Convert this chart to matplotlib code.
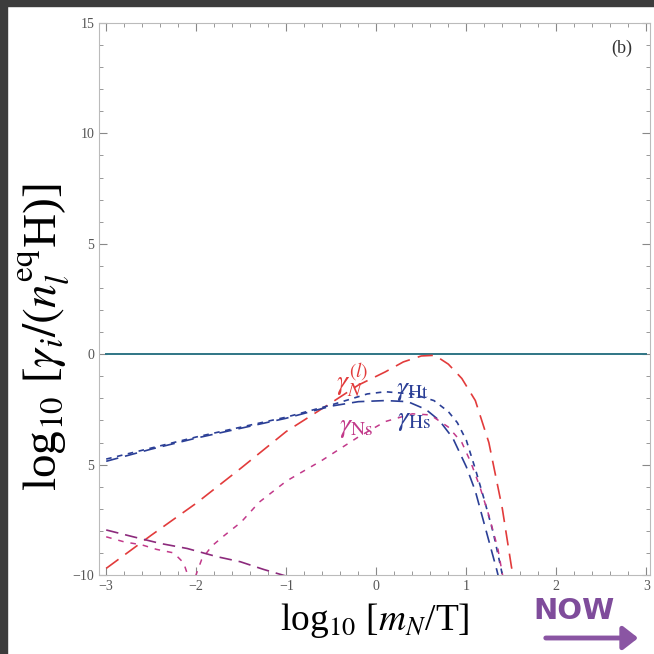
import matplotlib
matplotlib.use("Agg")
import matplotlib.pyplot as plt
from matplotlib.patches import FancyArrowPatch, Rectangle
from matplotlib.ticker import MultipleLocator

plt.rcParams['font.family'] = ['Liberation Serif', 'DejaVu Serif']
plt.rcParams['mathtext.fontset'] = 'stix'
plt.rcParams['lines.scale_dashes'] = False

# gamma_N^(l) (red, long dash)
x_N = [-3.0, -2.5, -2.0, -1.5, -1.0, -0.5, -0.2, 0.1, 0.3, 0.5, 0.65, 0.8, 0.95, 1.1, 1.25, 1.4, 1.5, 1.56]
y_N = [-9.7, -8.2, -6.75, -5.15, -3.5, -2.2, -1.4, -0.8, -0.35, -0.08, -0.05, -0.45, -1.1, -2.1, -4.0, -7.0, -9.6, -11.0]

# gamma_Ht (blue, short dash)
x_Ht = [-3.0, -2.5, -2.0, -1.5, -1.0, -0.5, -0.1, 0.1, 0.4, 0.64, 0.8, 0.9, 1.0, 1.1, 1.2, 1.3, 1.38, 1.44]
y_Ht = [-4.75, -4.25, -3.75, -3.3, -2.85, -2.3, -1.8, -1.7, -1.8, -2.1, -2.6, -3.1, -3.9, -5.2, -6.6, -8.1, -9.6, -10.8]

# gamma_Hs (blue, long dash)
x_Hs = [-3.0, -2.5, -2.0, -1.5, -1.0, -0.5, -0.2, 0.1, 0.35, 0.55, 0.7, 0.85, 1.0, 1.1, 1.2, 1.34, 1.4]
y_Hs = [-4.85, -4.3, -3.8, -3.35, -2.9, -2.35, -2.15, -2.1, -2.15, -2.5, -3.0, -3.8, -5.1, -6.2, -7.7, -9.8, -10.8]

# gamma_Ns (magenta, short dash), dips through a zero near -2.05
x_Ns = [-3.0, -2.8, -2.6, -2.44, -2.25, -2.14, -2.07, -2.03, -1.94, -1.83, -1.7, -1.5, -1.3, -1.0, -0.6, -0.2, 0.1, 0.4, 0.6, 0.8, 0.95, 1.05, 1.15, 1.25, 1.35, 1.42]
y_Ns = [-8.27, -8.5, -8.64, -8.84, -9.0, -9.45, -10.3, -10.3, -9.3, -8.7, -8.25, -7.6, -6.7, -5.75, -4.8, -3.75, -3.05, -2.7, -2.75, -3.3, -4.0, -4.9, -6.0, -7.3, -8.8, -10.4]

# Delta L = 2 term (purple, long dash)
x_L2 = [-3.0, -2.7, -2.4, -2.1, -1.77, -1.51, -1.25, -1.0]
y_L2 = [-7.96, -8.27, -8.57, -8.8, -9.17, -9.4, -9.75, -10.05]

x_eq = [-3.0, 3.0]
y_eq = [0.0, 0.0]

red = '#e23b3b'
blue = '#2b3f96'
magenta = '#c2398a'
purple = '#8c2a7c'

fig = plt.figure(figsize=(6.54, 6.54), dpi=100)
ax = fig.add_axes([99 / 654, 1 - 575 / 654, 551 / 654, 552 / 654])

ax.plot(x_eq, y_eq, color='#2f7585', lw=1.4)
ax.plot(x_N, y_N, color=red, lw=1.2, dashes=(11, 6))
ax.plot(x_Hs, y_Hs, color=blue, lw=1.2, dashes=(9, 5))
ax.plot(x_Ht, y_Ht, color=blue, lw=1.2, dashes=(4, 4))
ax.plot(x_Ns, y_Ns, color=magenta, lw=1.1, dashes=(4, 5))
ax.plot(x_L2, y_L2, color=purple, lw=1.2, dashes=(9, 5))

ax.text(-0.27, -1.2, r'$\gamma_N^{(l)}$', color=red, fontsize=20, ha='center', va='center')
ax.text(0.4, -1.65, r'$\gamma_{\rm Ht}$', color=blue, fontsize=20, ha='center', va='center')
ax.text(-0.22, -3.3, r'$\gamma_{\rm Ns}$', color=magenta, fontsize=20, ha='center', va='center')
ax.text(0.42, -3.0, r'$\gamma_{\rm Hs}$', color=blue, fontsize=20, ha='center', va='center')
ax.text(2.73, 13.85, '(b)', fontsize=13, color='#333333', ha='center', va='center')

ax.set_xlim(-3.08, 3.04)
ax.set_ylim(-10, 15)
ax.xaxis.set_minor_locator(MultipleLocator(0.2))
ax.yaxis.set_minor_locator(MultipleLocator(1))
ax.set_yticks([-10, -5, 0, 5, 10, 15])
ax.set_yticklabels(['\u221210', '5', '0', '5', '10', '15'])
ax.set_xticks([-3, -2, -1, 0, 1, 2, 3])
ax.set_xticklabels(['\u22123', '\u22122', '\u22121', '0', '1', '2', '3'])
ax.tick_params(which='both', direction='in', top=True, right=True, colors='#888888',
               labelcolor='#555555', labelsize=10)
ax.tick_params(which='major', length=6, width=0.8)
ax.tick_params(which='minor', length=3, width=0.6)
for s in ax.spines.values():
    s.set_color('#bbbbbb')
    s.set_linewidth(0.8)

ax.set_xlabel(r'log$_{10}$ [$m_N$/T]', fontsize=27, labelpad=6)
ax.set_ylabel(r'log$_{10}$ [$\gamma_i/(n_l^{\rm eq}$H)]', fontsize=34, labelpad=2)
ax.yaxis.set_label_coords(-0.05, 0.43)

# "NOW" overlay and arrow
fig.text(574 / 654, 1 - 611 / 654, 'NOW', fontsize=21, fontweight='heavy', color='#7f4c9b',
         family='DejaVu Sans', ha='center', va='center')
fig.patches.append(FancyArrowPatch((543 / 654, 1 - 638 / 654), (641 / 654, 1 - 638 / 654),
                                   transform=fig.transFigure, arrowstyle='-|>,head_length=9,head_width=7',
                                   color='#8a55a3', lw=3.5, mutation_scale=1))

# dark screenshot border
fig.patches.append(Rectangle((0, 0), 7 / 654, 1, transform=fig.transFigure, color='#3c3c3c', zorder=5))
fig.patches.append(Rectangle((0, 1 - 6 / 654), 1, 6 / 654, transform=fig.transFigure, color='#3c3c3c', zorder=5))

fig.savefig('out.png', dpi=100)
